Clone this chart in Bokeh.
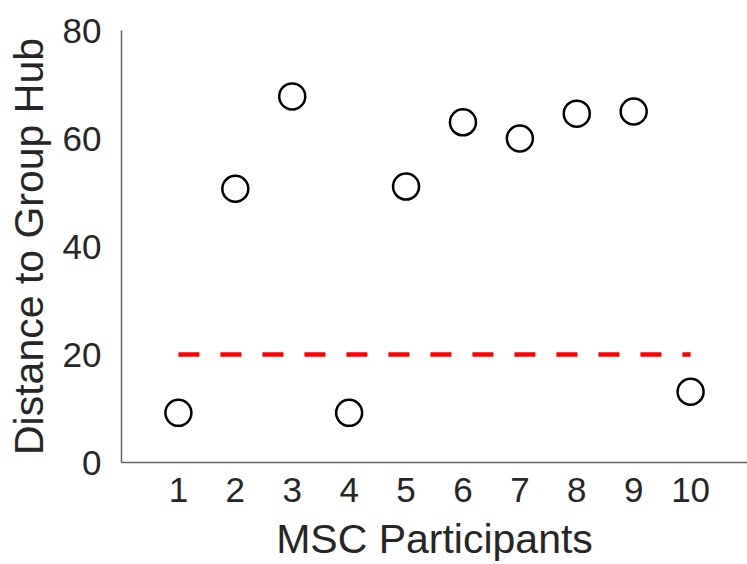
from bokeh.plotting import figure
from bokeh.models import Range1d, FixedTicker, ColumnDataSource
from bokeh.embed import file_html
from bokeh.resources import INLINE

participants = [1, 2, 3, 4, 5, 6, 7, 8, 9, 10]
distances = [9.2, 50.7, 67.8, 9.2, 51.1, 63.0, 60.0, 64.6, 65.0, 13.1]
threshold_x = [1, 10]
threshold_y = [20, 20]
y_ticks = [0, 20, 40, 60, 80]

FONT = "Liberation Sans"
TXT = "#262626"

p = figure(width=747, height=564, output_backend="svg", toolbar_location=None,
           x_range=Range1d(0, 11), y_range=Range1d(0, 80),
           min_border_left=121, min_border_right=0, min_border_top=30,
           min_border_bottom=102)
p.outline_line_color = None
p.xgrid.visible = False
p.ygrid.visible = False

p.line(threshold_x, threshold_y, line_color="#ff0000", line_width=4.5, line_dash="21 21")
src = ColumnDataSource(dict(x=participants, y=distances))
p.scatter("x", "y", source=src, size=26, fill_color="white", line_color="black", line_width=2.5)

for ax in (p.xaxis, p.yaxis):
    ax.axis_line_color = "#666666"
    ax.axis_line_width = 1.5
    ax.major_tick_line_color = None
    ax.minor_tick_line_color = None
    ax.major_label_text_font = FONT
    ax.major_label_text_font_size = "35px"
    ax.major_label_text_color = TXT
    ax.axis_label_text_font = FONT
    ax.axis_label_text_font_size = "41px"
    ax.axis_label_text_color = TXT
    ax.axis_label_text_font_style = "normal"

p.xaxis.ticker = FixedTicker(ticks=participants)
p.yaxis.ticker = FixedTicker(ticks=y_ticks)
p.xaxis.axis_label = "MSC Participants"
p.yaxis.axis_label = "Distance to Group Hub"
p.xaxis.major_label_standoff = 9
p.yaxis.major_label_standoff = 14
p.xaxis.axis_label_standoff = 11
p.yaxis.axis_label_standoff = 8

open("out.html", "w").write(file_html(p, INLINE))
